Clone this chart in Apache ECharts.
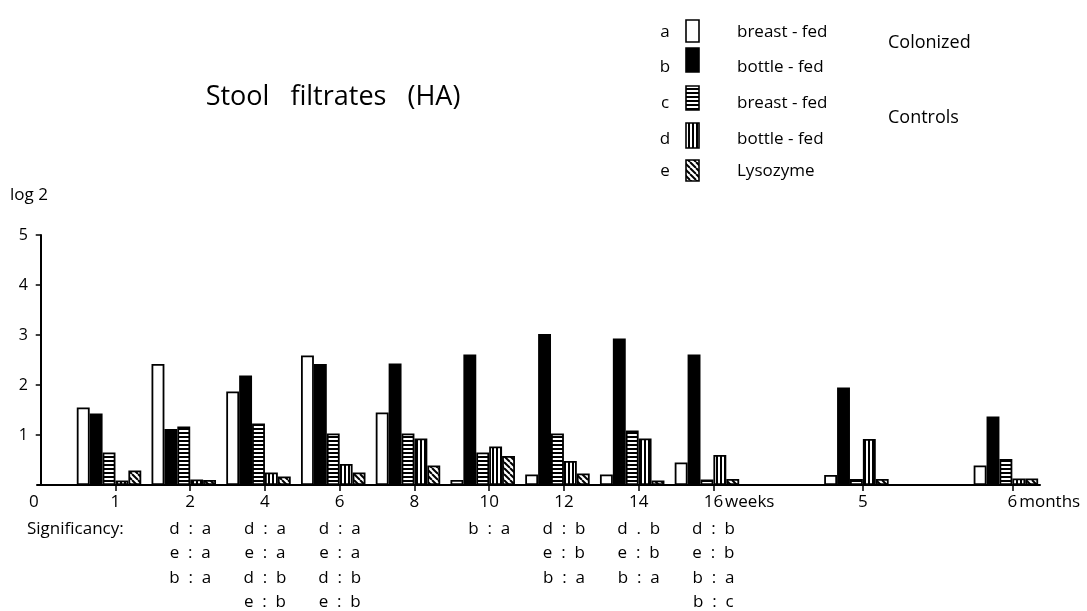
<!DOCTYPE html>
<html>
<head>
<meta charset="utf-8">
<script src="https://cdn.jsdelivr.net/npm/echarts@6/dist/echarts.min.js"></script>
<style>
html,body{margin:0;padding:0;background:#fff;}
#chart{width:1087px;height:611px;}
</style>
</head>
<body>
<div id="chart"></div>
<script>
// ---- data ----
const titleText = 'Stool filtrates (HA)';
const yAxisTitle = 'log 2';
const originLabel = '0';
const categories = ['1', '2', '4', '6', '8', '10', '12', '14', '16', '5', '6'];
const categorySlots = [1, 2, 3, 4, 5, 6, 7, 8, 9, 11, 13];
const unitSuffix = ['', '', '', '', '', '', '', '', 'weeks', '', 'months'];
const yTickLabels = ['', '1', '2', '3', '4', '5'];

const seriesKeys = ['a', 'b', 'c', 'd', 'e'];
const valuesA = [1.55, 2.42, 1.87, 2.59, 1.45, 0.10, 0.21, 0.21, 0.45, 0.20, 0.39];
const valuesB = [1.43, 1.12, 2.19, 2.42, 2.43, 2.61, 3.02, 2.93, 2.61, 1.95, 1.37];
const valuesC = [0.65, 1.17, 1.23, 1.03, 1.03, 0.65, 1.03, 1.09, 0.11, 0.12, 0.52];
const valuesD = [0.09, 0.11, 0.25, 0.42, 0.93, 0.77, 0.48, 0.93, 0.60, 0.92, 0.13];
const valuesE = [0.29, 0.10, 0.17, 0.25, 0.39, 0.58, 0.23, 0.09, 0.12, 0.12, 0.13];

const legendLabels = ['breast - fed', 'bottle - fed', 'breast - fed', 'bottle - fed', 'Lysozyme'];
const groupLabels = ['Colonized', 'Controls'];

const significancyTitle = 'Significancy:';
const significancy = [
  [],
  ['d : a', 'e : a', 'b : a'],
  ['d : a', 'e : a', 'd : b', 'e : b'],
  ['d : a', 'e : a', 'd : b', 'e : b'],
  [],
  ['b : a'],
  ['d : b', 'e : b', 'b : a'],
  ['d . b', 'e : b', 'b : a'],
  ['d : b', 'e : b', 'b : a', 'b : c'],
  [],
  []
];

// ---- styles ----
const FONT = '"Open Sans", "Lato", sans-serif';
function makePattern(kind) {
  const c = document.createElement('canvas');
  const ctx = c.getContext('2d');
  if (kind === 'h') {
    c.width = 4; c.height = 4;
    ctx.fillStyle = '#fff'; ctx.fillRect(0, 0, 4, 4);
    ctx.fillStyle = '#000'; ctx.fillRect(0, 0, 4, 2);
  } else if (kind === 'v') {
    c.width = 4; c.height = 4;
    ctx.fillStyle = '#fff'; ctx.fillRect(0, 0, 4, 4);
    ctx.fillStyle = '#000'; ctx.fillRect(0, 0, 2, 4);
  } else {
    c.width = 6; c.height = 6;
    ctx.fillStyle = '#fff'; ctx.fillRect(0, 0, 6, 6);
    ctx.strokeStyle = '#000'; ctx.lineWidth = 2;
    [-6, 0, 6].forEach(function (k) {
      ctx.beginPath(); ctx.moveTo(k, 0); ctx.lineTo(k + 6, 6); ctx.stroke();
    });
  }
  return { image: c, repeat: 'repeat' };
}
const fills = ['#ffffff', '#000000', makePattern('h'), makePattern('v'), makePattern('d')];
const allValues = [valuesA, valuesB, valuesC, valuesD, valuesE];

const labelSlots = [0].concat(categorySlots);
const labelTexts = [originLabel].concat(categories);
const labelSuffix = [''].concat(unitSuffix);

const BAR_W = 12.9;
const series = allValues.map(function (vals, s) {
  return {
    name: seriesKeys[s],
    type: 'bar',
    barWidth: BAR_W,
    barGap: '0%',
    silent: true,
    itemStyle: { color: fills[s], borderColor: '#000', borderWidth: 1.8 },
    data: categorySlots.map(function (p, i) { return [p, vals[i]]; })
  };
});
// empty spacer slot so that each group's tick falls between c and d
series.push({
  name: 'spacer', type: 'bar', barWidth: BAR_W, barGap: '0%', silent: true,
  itemStyle: { color: 'rgba(0,0,0,0)', borderWidth: 0 },
  data: categorySlots.map(function (p) { return [p, 0]; })
});

const chart = echarts.init(document.getElementById('chart'));
const txt = { fontFamily: FONT, fontSize: 17, color: '#000' };
chart.setOption({
  animation: false,
  backgroundColor: '#fff',
  grid: { left: 37, right: 47, top: 235, bottom: 126, containLabel: false },
  xAxis: {
    type: 'value', min: -0.05, max: 13.37,
    splitLine: { show: false },
    axisLine: { show: true, lineStyle: { color: '#000', width: 2 } },
    axisTick: { show: true, customValues: categorySlots, length: 6, lineStyle: { color: '#000', width: 1.5 } },
    axisLabel: {
      customValues: labelSlots, margin: 9, color: '#000', fontFamily: FONT, fontSize: 17,
      formatter: function (v) {
        const i = labelSlots.indexOf(v);
        if (i < 0) return '';
        const lab = labelTexts[i], suf = labelSuffix[i];
        if (suf) return '{sp|' + suf + '}{n|' + lab + '}{u|' + suf + '}';
        if (v === 0) return '{z|' + lab + '}';
        return '{n|' + lab + '}';
      },
      rich: {
        n: txt,
        u: Object.assign({ padding: [0, 0, 0, 2] }, txt),
        sp: Object.assign({}, txt, { color: 'rgba(0,0,0,0)', padding: [0, 2, 0, 0] }),
        z: Object.assign({ padding: [0, 14, 0, 0] }, txt)
      }
    }
  },
  yAxis: {
    type: 'value', min: 0, max: 5, interval: 1,
    splitLine: { show: false },
    axisLine: { show: true, lineStyle: { color: '#000', width: 2 } },
    axisTick: { show: true, customValues: [1, 2, 3, 4, 5], length: 5, lineStyle: { color: '#000', width: 1.5 } },
    axisLabel: {
      margin: 9, color: '#000', fontFamily: FONT, fontSize: 16,
      formatter: function (v) { return yTickLabels[v] || ''; }
    }
  },
  series: series
});

// ---- text annotations and legend ----
const graphics = [];
function addText(x, y, text, size, align) {
  graphics.push({
    type: 'text', x: x, y: y, silent: true,
    style: { text: text, fill: '#000', font: size + 'px ' + FONT, align: align || 'left', verticalAlign: 'middle' }
  });
}
addText(333, 97, titleText.replace(/ /g, '   '), 27, 'center');
addText(10, 195, yAxisTitle, 17, 'left');

// legend
const legendTextY = [32, 67, 103, 139, 171];
const legendIconY = [20, 48, 86, 123, 160];
const legendIconH = [22, 24, 24, 25, 21];
seriesKeys.forEach(function (k, i) {
  addText(665, legendTextY[i], k, 17, 'center');
  graphics.push({
    type: 'rect', silent: true,
    shape: { x: 686, y: legendIconY[i], width: 13, height: legendIconH[i] },
    style: { fill: fills[i], stroke: '#000', lineWidth: 1.6 }
  });
  addText(737, legendTextY[i], legendLabels[i], 17, 'left');
});
addText(888, 43, groupLabels[0], 18, 'left');
addText(888, 118, groupLabels[1], 18, 'left');

// significancy block
addText(27, 529, significancyTitle, 17, 'left');
significancy.forEach(function (rows, i) {
  const px = chart.convertToPixel({ xAxisIndex: 0 }, categorySlots[i]);
  rows.forEach(function (t, r) {
    addText(px, 529 + r * 24.5, t.replace(/ /g, '  '), 17, 'center');
  });
});

chart.setOption({ graphic: graphics });
</script>
</body>
</html>
